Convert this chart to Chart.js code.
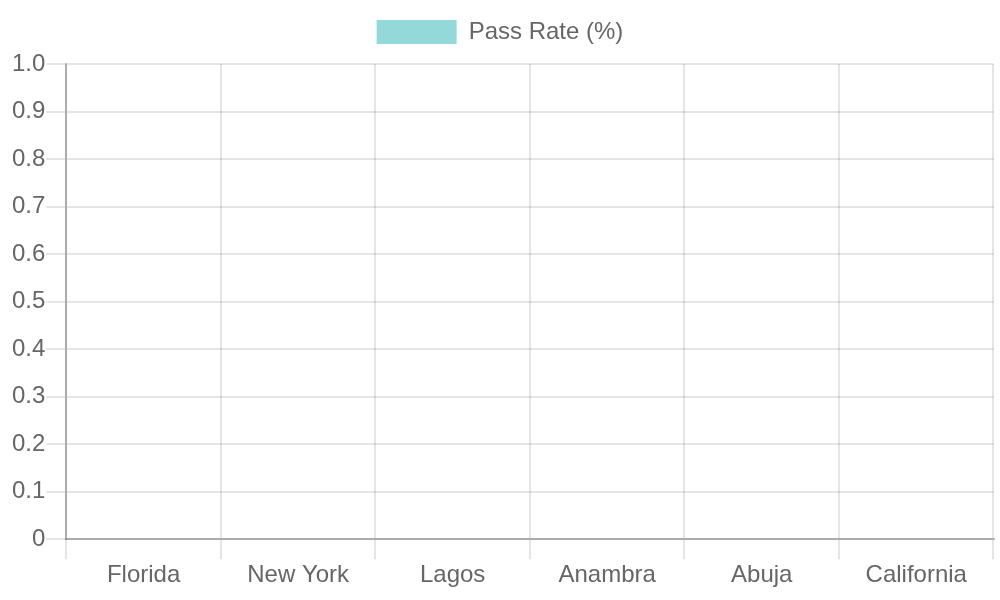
<!DOCTYPE html>
<html>
<head>
<meta charset="utf-8">
<script src="https://cdn.jsdelivr.net/npm/chart.js"></script>
<style>
  html, body { margin: 0; padding: 0; background: #fff; overflow: hidden; }
  #myChart { display: block; width: 1000px !important; height: 600px !important; }
</style>
</head>
<body>
<canvas id="myChart" width="500" height="300"></canvas>
<script>
const estados = ["Florida", "New York", "Lagos", "Anambra", "Abuja", "California"]
const tasaAprobacion = [0, 0, 0, 0, 0, 0]

Chart.defaults.font.family = "'Liberation Sans', Arial, sans-serif"
Chart.defaults.font.size = 12
Chart.defaults.color = "#666"

const config = {
    type: "bar",
    data: {
        labels: estados,
        datasets: [
            {
                label: "Pass Rate (%)",
                backgroundColor: "rgba(75, 192, 192, 0.6)",
                borderColor: "rgba(75, 192, 192, 1)",
                data: tasaAprobacion
            }
        ]
    },
    options: {
        responsive: false,
        animation: false,
        devicePixelRatio: 2,
        layout: {
            padding: { left: 3.25, right: 3.25, top: 0, bottom: 4 }
        },
        scales: {
            x: {
                grid: { color: "rgba(0,0,0,0.1)", tickLength: 10 },
                border: { color: "rgba(0,0,0,0.25)" },
                ticks: { padding: 1 }
            },
            y: {
                beginAtZero: true,
                grid: { color: "rgba(0,0,0,0.1)", tickLength: 10 },
                border: { color: "rgba(0,0,0,0.25)" },
                ticks: { padding: 0.5 },
                afterFit: (scale) => { scale.width += 2.25 }
            }
        }
    }
};
new Chart(document.querySelector("#myChart"), config);
</script>
</body>
</html>
